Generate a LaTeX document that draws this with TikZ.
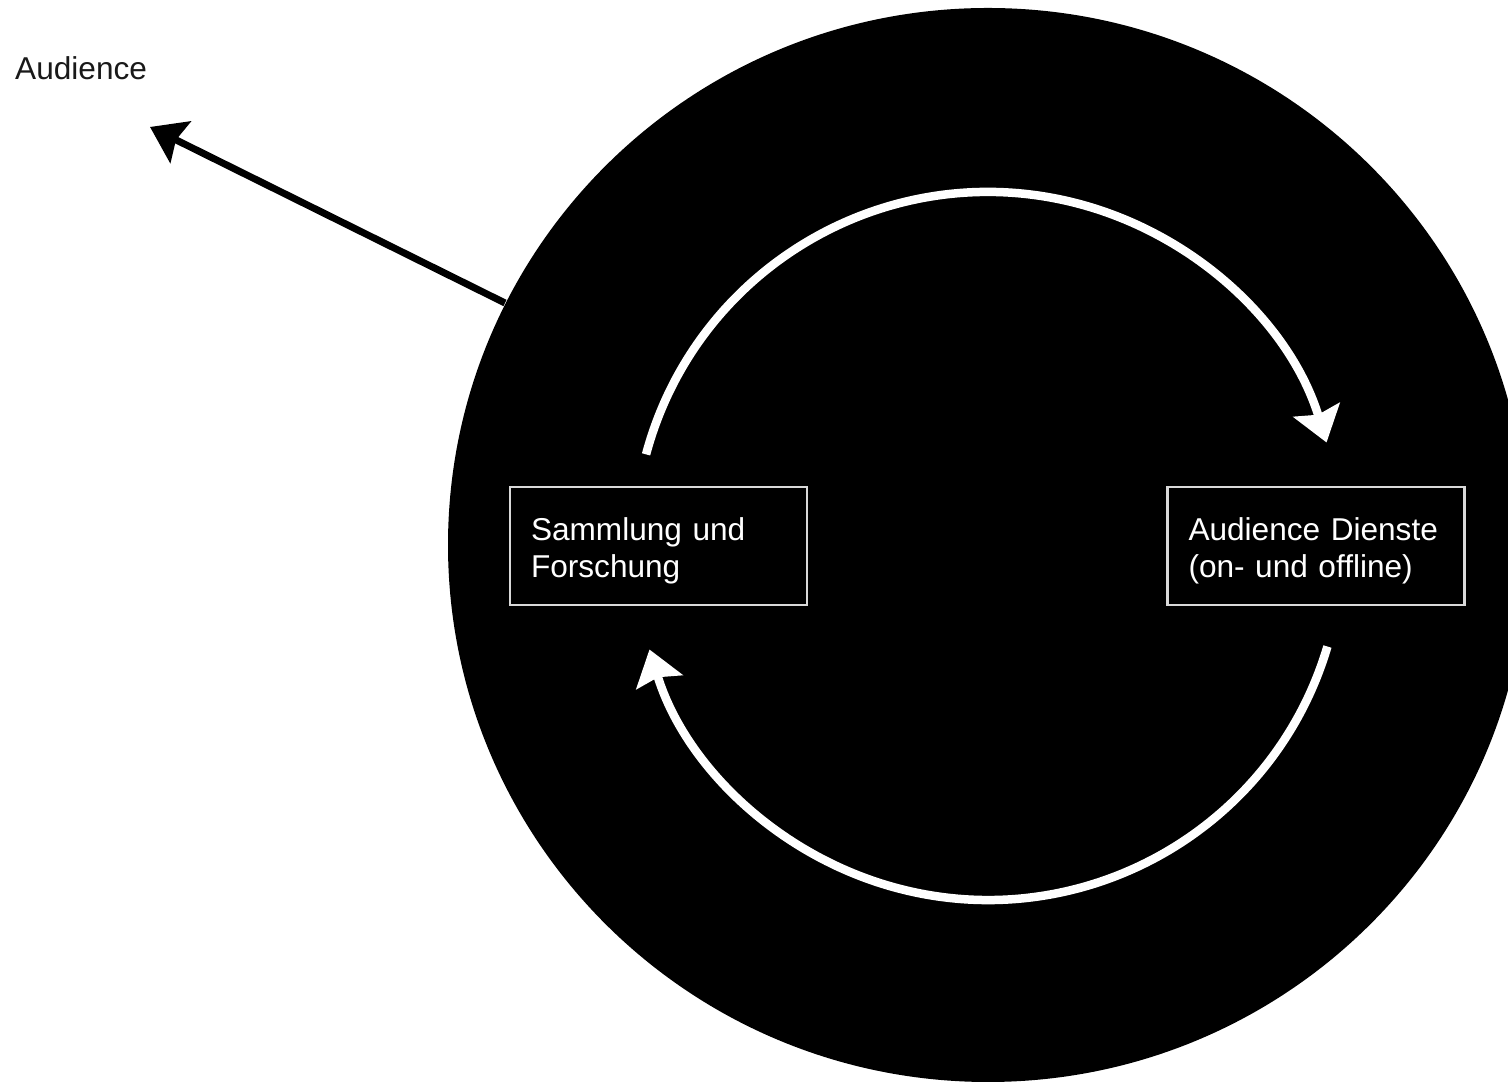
\documentclass[tikz,border=0pt]{standalone}
\usepackage{fontspec}
\setmainfont{Liberation Sans}
\usetikzlibrary{arrows.meta,shapes.geometric,calc}
\newcommand{\boxtext}[1]{\raisebox{-5pt}[\height][\depth]{\parbox{255pt}{#1}}}
\begin{document}
\begin{tikzpicture}[x=1pt,y=1pt,
  boxstyle/.style={draw=black!15,line width=2.5pt,fill=black,text=white,minimum width=297pt,minimum height=118pt,
    align=left,text width=255pt,inner sep=0pt,font=\fontsize{31.6}{37}\selectfont},
  cyclearrow/.style={draw=white,line width=8.5pt,-{Stealth[length=34pt,width=48pt,inset=5pt]}},
  outarrow/.style={draw=black,line width=7pt,-{Stealth[length=34pt,width=46pt,inset=5pt]}}]
\useasboundingbox (0,0) rectangle (1508,1083);
\clip (0,0) rectangle (1508,1083);
\node[ellipse,fill=black,inner sep=0pt,minimum width=1080pt,minimum height=1074pt] (big) at (988,538) {};
\node[boxstyle] (sf) at (658.5,537) {\boxtext{Sammlung und\\Forschung}};
\node[boxstyle] (ad) at (1316,537) {\boxtext{Audience Dienste\\(on- und offline)}};
\node[anchor=west,inner sep=0pt,text=black!90,font=\fontsize{31.6}{36}\selectfont] (aud) at (15,1015) {Audience};
\coordinate (audtip) at (150,956);
\coordinate (cstart) at (505,780);
\draw[outarrow] (cstart) -- (audtip);
\coordinate (upstart) at ($(988,537)+(165:354)$);
\draw[cyclearrow] (upstart) arc[start angle=165,end angle=17,radius=354];
\coordinate (lowstart) at ($(988,537)+(-16.5:354)$);
\draw[cyclearrow] (lowstart) arc[start angle=-16.5,end angle=-163,radius=354];
\end{tikzpicture}
\end{document}
